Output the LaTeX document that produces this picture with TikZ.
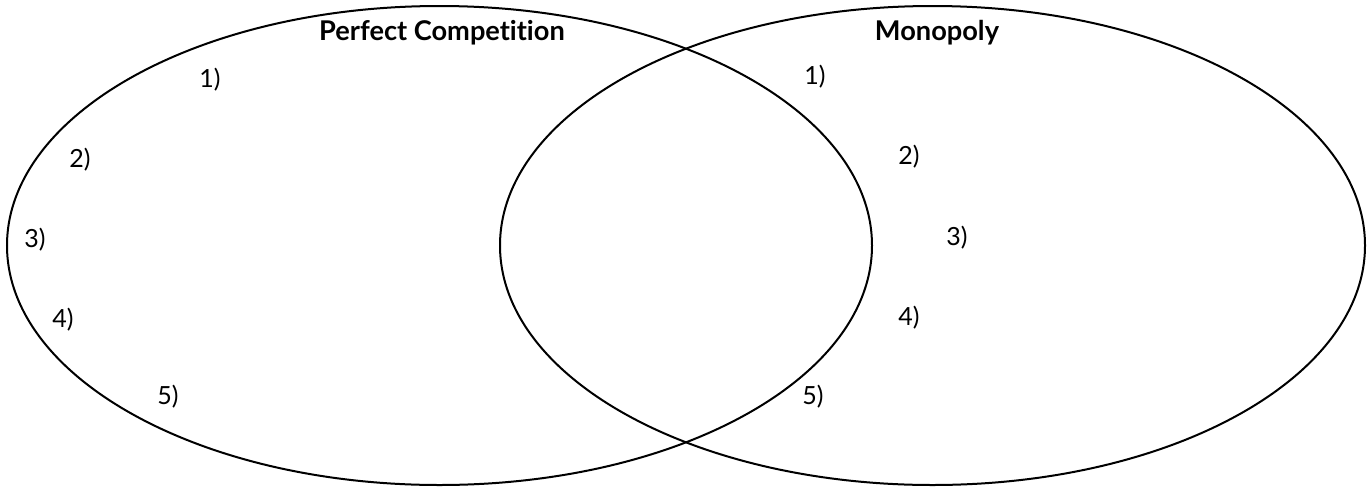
\documentclass[tikz,border=0pt]{standalone}
\usepackage{fontspec}
\setmainfont{Lato}[Ligatures=NoCommon]
\begin{document}
\begin{tikzpicture}[x=0.5pt,y=-0.5pt,
  venn/.style={draw=black,line width=1pt},
  title/.style={font=\bfseries\fontsize{13.6}{16}\selectfont,inner sep=0pt},
  num/.style={font=\fontsize{12.5}{14}\selectfont,inner sep=0pt}]
\useasboundingbox (0,0) rectangle (1372,489);
\draw[venn] (439.5,245.5) ellipse [x radius=432.5,y radius=239.5];
\draw[venn] (932.5,245.5) ellipse [x radius=432.5,y radius=239.5];
\node[title] (pc) at (442,33) {Perfect Competition};
\node[title] (mo) at (937,33) {Monopoly};
\node[num] (l1) at (210,80) {1)};
\node[num] (l2) at (80,160) {2)};
\node[num] (l3) at (35,240) {3)};
\node[num] (l4) at (63,320) {4)};
\node[num] (l5) at (168,397) {5)};
\node[num] (r1) at (815,77) {1)};
\node[num] (r2) at (909,157) {2)};
\node[num] (r3) at (957,238) {3)};
\node[num] (r4) at (909,318) {4)};
\node[num] (r5) at (813,397) {5)};
\end{tikzpicture}
\end{document}
